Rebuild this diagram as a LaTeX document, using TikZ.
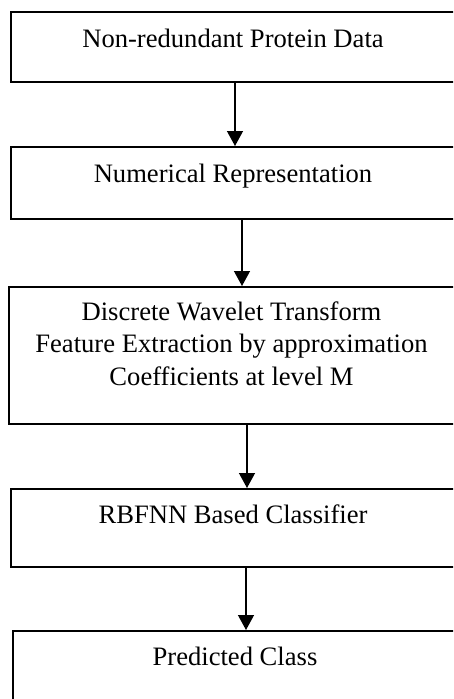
\documentclass[tikz,border=0pt]{standalone}
\usepackage{fontspec}
\setmainfont{Liberation Serif}
\usetikzlibrary{arrows.meta}
\begin{document}
\begin{tikzpicture}[x=1pt,y=1pt,
  boxnode/.style={draw=black,line width=1.6pt,rectangle,anchor=north west,inner sep=0pt,minimum width=500pt},
  txt/.style={anchor=base,inner sep=0pt,font=\fontsize{26.6}{32}\selectfont},
  arr/.style={line width=1.3pt,-{Triangle[length=15pt,width=16pt]}}]
\useasboundingbox (0,0) rectangle (453,-699);
\clip (0,0) rectangle (453,-699);
\node[boxnode,minimum height=70pt] (b1) at (10,-11) {};
\node[boxnode,minimum height=72pt] (b2) at (10,-146) {};
\node[boxnode,minimum height=137pt] (b3) at (8,-286) {};
\node[boxnode,minimum height=78pt] (b4) at (10,-488) {};
\node[boxnode,minimum height=100pt] (b5) at (12,-630) {};
\node[txt] (t1) at (233,-47) {Non-redundant Protein Data};
\node[txt] (t2) at (233,-182) {Numerical Representation};
\node[txt] (t3a) at (231.5,-320) {Discrete Wavelet Transform};
\node[txt] (t3b) at (231.5,-352) {Feature Extraction by approximation};
\node[txt] (t3c) at (231.5,-385) {Coefficients at level M};
\node[txt] (t4) at (233,-523) {RBFNN Based Classifier};
\node[txt] (t5) at (235,-665) {Predicted Class};
\coordinate (x1) at (235,0);
\coordinate (x2) at (242,0);
\coordinate (x3) at (247,0);
\coordinate (x4) at (246,0);
\draw[arr] (b1.south -| x1) -- (b2.north -| x1);
\draw[arr] (b2.south -| x2) -- (b3.north -| x2);
\draw[arr] (b3.south -| x3) -- (b4.north -| x3);
\draw[arr] (b4.south -| x4) -- (b5.north -| x4);
\end{tikzpicture}
\end{document}
